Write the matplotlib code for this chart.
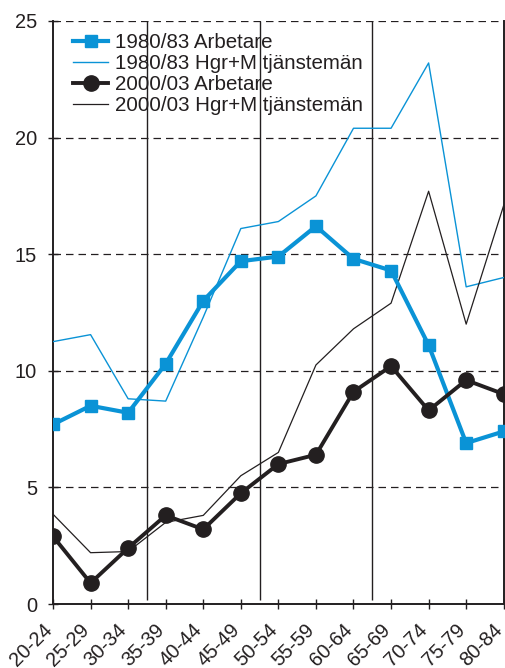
import matplotlib
matplotlib.use("Agg")
import matplotlib.pyplot as plt
import matplotlib.transforms as mtransforms

plt.rcParams["font.family"] = ["Liberation Sans", "DejaVu Sans"]

ages = ["20-24", "25-29", "30-34", "35-39", "40-44", "45-49", "50-54",
        "55-59", "60-64", "65-69", "70-74", "75-79", "80-84"]
arb_1980 = [7.7, 8.5, 8.2, 10.3, 13.0, 14.7, 14.9, 16.2, 14.8, 14.3, 11.1, 6.9, 7.4]
tj_1980 = [11.25, 11.55, 8.8, 8.7, 12.3, 16.1, 16.4, 17.5, 20.4, 20.4, 23.2, 13.6, 14.0]
arb_2000 = [2.9, 0.9, 2.4, 3.8, 3.2, 4.75, 6.0, 6.4, 9.1, 10.2, 8.3, 9.6, 9.0]
tj_2000 = [3.85, 2.2, 2.25, 3.5, 3.8, 5.5, 6.5, 10.25, 11.8, 12.9, 17.7, 12.0, 17.1]
separators = [2.5, 5.5, 8.5]
yticks = [0, 5, 10, 15, 20, 25]

BLUE = "#0a93d6"
BLACK = "#231f20"

fig = plt.figure(figsize=(5.05, 6.68), dpi=100)
ax = fig.add_axes([0.105, 0.0958, 0.8925, 0.8728])

x = list(range(len(ages)))
ax.plot(x, arb_1980, color=BLUE, lw=3.0, marker="s", ms=8, label="1980/83 Arbetare", zorder=4)
ax.plot(x, tj_1980, color=BLUE, lw=1.0, label="1980/83 Hgr+M tjänstemän", zorder=3)
ax.plot(x, arb_2000, color=BLACK, lw=2.8, marker="o", ms=11, label="2000/03 Arbetare", zorder=4)
ax.plot(x, tj_2000, color=BLACK, lw=0.9, label="2000/03 Hgr+M tjänstemän", zorder=3)

for s in separators:
    ax.vlines(s, 0.17, 25, color=BLACK, lw=1.0, zorder=2)
for t in yticks[1:]:
    ax.axhline(t, color=BLACK, lw=0.9, ls=(0, (6, 4)), zorder=1)

ax.set_xlim(0, len(ages) - 1)
ax.set_ylim(0, 25)
ax.set_yticks(yticks)
ax.set_xticks(x)
ax.set_xticklabels(ages, rotation=45, ha="right", va="center", rotation_mode="anchor")
ax.tick_params(axis="both", direction="inout", length=7, width=1.0, labelsize=14.4, colors=BLACK)
ax.tick_params(axis="x", pad=13)
ax.tick_params(axis="y", pad=8)
ax.spines["top"].set_visible(False)
for sp in ["left", "bottom", "right"]:
    ax.spines[sp].set_linewidth(1.4)
    ax.spines[sp].set_color(BLACK)

# nudge rotated labels a little left of their ticks
shift = mtransforms.ScaledTranslation(-4 / 100, 0, fig.dpi_scale_trans)
for lab in ax.get_xticklabels():
    lab.set_transform(lab.get_transform() + shift)

leg = ax.legend(loc="upper left", bbox_to_anchor=(0.025, 0.993), frameon=False,
                fontsize=14.8, handlelength=1.75, handletextpad=0.3, labelspacing=0.1,
                borderaxespad=0.0)
for t in leg.get_texts():
    t.set_color(BLACK)

fig.savefig("out.png", dpi=100)
